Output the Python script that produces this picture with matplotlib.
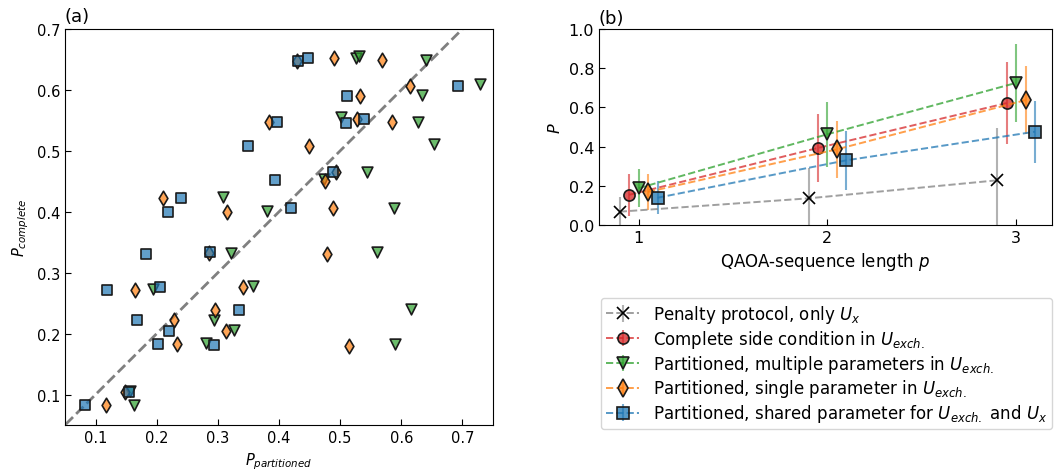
import matplotlib
matplotlib.use("Agg")
import matplotlib.pyplot as plt
from matplotlib.colors import to_rgba

# ---------------- data: panel (a) ----------------
shared_x = [0.083, 0.1185, 0.182, 0.2054, 0.168, 0.2197, 0.2016, 0.294, 0.3344, 0.2869,
            0.155, 0.219, 0.239, 0.3497, 0.3934, 0.396, 0.4317, 0.447, 0.511, 0.6923,
            0.51, 0.5388, 0.488, 0.4197]
shared_y = [0.083, 0.271, 0.331, 0.276, 0.222, 0.205, 0.1835, 0.181, 0.239, 0.3335,
            0.1044, 0.3995, 0.4234, 0.5086, 0.4514, 0.5468, 0.6477, 0.6525, 0.5905, 0.607,
            0.546, 0.5517, 0.4645, 0.406]

single_x = [0.117, 0.1487, 0.165, 0.229, 0.2328, 0.295, 0.3126, 0.3415, 0.285, 0.315,
            0.211, 0.3836, 0.429, 0.4896, 0.569, 0.5328, 0.614, 0.527, 0.585, 0.449,
            0.493, 0.475, 0.4885, 0.479, 0.5148]
single_y = [0.083, 0.1044, 0.271, 0.2216, 0.1835, 0.239, 0.205, 0.276, 0.333, 0.399,
            0.4234, 0.5468, 0.648, 0.6525, 0.649, 0.5905, 0.607, 0.5526, 0.547, 0.5086,
            0.4645, 0.451, 0.406, 0.3308, 0.180]

multi_x = [0.1628, 0.157, 0.1934, 0.2934, 0.2798, 0.3267, 0.3569, 0.3218, 0.381, 0.308,
           0.526, 0.531, 0.640, 0.729, 0.634, 0.5016, 0.628, 0.654, 0.5447, 0.4738,
           0.5885, 0.560, 0.6153, 0.589]
multi_y = [0.083, 0.1054, 0.2735, 0.2227, 0.185, 0.2064, 0.2774, 0.3324, 0.4005, 0.425,
           0.6517, 0.655, 0.649, 0.609, 0.592, 0.555, 0.548, 0.511, 0.466, 0.453,
           0.407, 0.334, 0.2396, 0.1823]

# ---------------- data: panel (b) ----------------
p_vals = [1, 2, 3]
offsets = [-0.1, -0.05, 0.0, 0.05, 0.1]
labels_b = [r"Penalty protocol, only $U_x$",
            r"Complete side condition in $U_{exch.}$",
            r"Partitioned, multiple parameters in $U_{exch.}$",
            r"Partitioned, single parameter in $U_{exch.}$",
            r"Partitioned, shared parameter for $U_{exch.}$ and $U_x$"]
means_b = [[0.068, 0.136, 0.228],
           [0.154, 0.393, 0.622],
           [0.188, 0.463, 0.725],
           [0.169, 0.386, 0.637],
           [0.139, 0.330, 0.476]]
errs_b = [[0.073, 0.155, 0.265],
          [0.106, 0.175, 0.210],
          [0.097, 0.165, 0.200],
          [0.090, 0.144, 0.174],
          [0.083, 0.152, 0.159]]
colors_b = ["tab:gray", "tab:red", "tab:green", "tab:orange", "tab:blue"]
markers_b = ["x", "o", "v", "d", "s"]

# ---------------- figure ----------------
fig = plt.figure(figsize=(10.56, 4.77), dpi=100)
W, H = 1056, 477
axa = fig.add_axes([65 / W, 1 - 426 / H, (493 - 65) / W, (426 - 30) / H])
axb = fig.add_axes([599 / W, 1 - 226 / H, (1052 - 599) / W, (226 - 30) / H])

A = 0.7
ek = (0.1, 0.1, 0.1, 1.0)
axa.plot([0, 1], [0, 1], ls="--", color="gray", lw=2, zorder=1)
axa.scatter(multi_x, multi_y, marker="v", s=60, facecolor=to_rgba("tab:green", A),
            edgecolor=ek, linewidth=1.2, zorder=2)
axa.scatter(single_x, single_y, marker="d", s=55, facecolor=to_rgba("tab:orange", A),
            edgecolor=ek, linewidth=1.2, zorder=3)
axa.scatter(shared_x, shared_y, marker="s", s=55, facecolor=to_rgba("tab:blue", A),
            edgecolor=ek, linewidth=1.2, zorder=4)
axa.set_xlim(0.05, 0.75)
axa.set_ylim(0.05, 0.7)
axa.set_xticks([0.1, 0.2, 0.3, 0.4, 0.5, 0.6, 0.7])
axa.set_yticks([0.1, 0.2, 0.3, 0.4, 0.5, 0.6, 0.7])
axa.tick_params(direction="in", labelsize=10.5, length=4)
axa.set_xlabel(r"$P_{partitioned}$", fontsize=10.5)
axa.set_ylabel(r"$P_{complete}$", fontsize=10.5)
axa.text(0.0, 1.01, "(a)", transform=axa.transAxes, fontsize=13, va="bottom", ha="left")

handles = []
for i in range(5):
    xs = [p + offsets[i] for p in p_vals]
    c = colors_b[i]
    if markers_b[i] == "x":
        mfc, mec, ms, mew = "k", "k", 8, 1.2
    else:
        mfc, mec, ms, mew = to_rgba(c, 0.75), ek, 8 if markers_b[i] != "d" else 9, 1.2
    h = axb.errorbar(xs, means_b[i], yerr=errs_b[i], color=to_rgba(c, 0.75), ls="--",
                     lw=1.4, elinewidth=1.5, ecolor=to_rgba(c, 0.6), marker=markers_b[i],
                     mfc=mfc, mec=mec, ms=ms, mew=mew, capsize=0, label=labels_b[i])
    handles.append(h)
axb.set_xlim(0.79, 3.19)
axb.set_ylim(0, 1.0)
axb.set_xticks([1, 2, 3])
axb.set_yticks([0.0, 0.2, 0.4, 0.6, 0.8, 1.0])
axb.tick_params(direction="in", labelsize=11.5, length=4)
axb.set_xlabel(r"QAOA-sequence length $p$", fontsize=12)
axb.set_ylabel(r"$P$", fontsize=11.5)
axb.text(0.0, 1.01, "(b)", transform=axb.transAxes, fontsize=13, va="bottom", ha="left")

fig.legend(handles=handles, labels=labels_b, loc="upper left",
           bbox_to_anchor=(601 / W, 1 - 299 / H), fontsize=12, frameon=True,
           borderaxespad=0.0, handlelength=2.0, labelspacing=0.17, borderpad=0.3)

fig.savefig("out.png", dpi=100)
